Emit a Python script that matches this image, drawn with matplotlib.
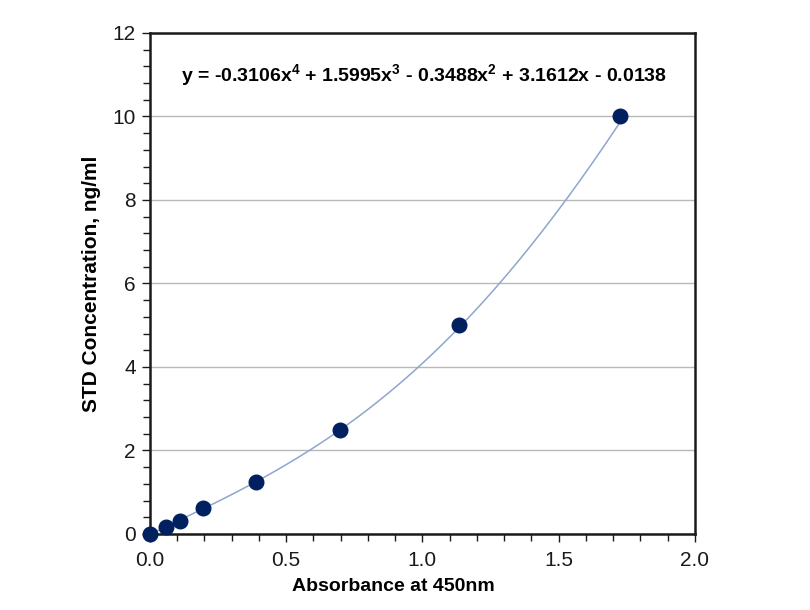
import numpy as np
import matplotlib
matplotlib.use("Agg")
import matplotlib.pyplot as plt
from matplotlib.ticker import MultipleLocator

plt.rcParams["font.family"] = ["Liberation Sans", "DejaVu Sans"]
plt.rcParams["mathtext.default"] = "regular"

# standard curve data
absorbance = [0.0, 0.059, 0.110, 0.194, 0.389, 0.697, 1.134, 1.725]
concentration = [0.0, 0.156, 0.3125, 0.625, 1.25, 2.5, 5.0, 10.0]
# 4th order fit coefficients (highest power first)
fit_coeffs = [-0.3106, 1.5995, -0.3488, 3.1612, -0.0138]

fig = plt.figure(figsize=(8.1, 6.1), dpi=100)
ax = fig.add_axes([0.185, 0.1246, 0.673, 0.8214])

xs = np.linspace(0, max(absorbance), 200)
ax.plot(xs, np.polyval(fit_coeffs, xs), color="#8fa6cc", lw=1.1, zorder=2)
ax.plot(absorbance, concentration, "o", color="#002060", ms=10.5, zorder=3,
        clip_on=False)

ax.set_xlim(0, 2.0)
ax.set_ylim(0, 12)
ax.xaxis.set_major_locator(MultipleLocator(0.5))
ax.xaxis.set_minor_locator(MultipleLocator(0.1))
ax.yaxis.set_major_locator(MultipleLocator(2))
ax.yaxis.set_minor_locator(MultipleLocator(0.4))
ax.xaxis.set_major_formatter(plt.FuncFormatter(lambda v, p: f"{v:.1f}"))
ax.yaxis.set_major_formatter(plt.FuncFormatter(lambda v, p: f"{v:.0f}"))

ax.grid(axis="y", which="major", color="#b8b8b8", lw=1)
ax.set_axisbelow(True)
for s in ax.spines.values():
    s.set_linewidth(1.8)
    s.set_color("#1a1a1a")

ax.tick_params(which="both", direction="out", length=5, width=1, labelsize=15,
               colors="#1a1a1a", pad=4)
ax.tick_params(which="major", length=6)
ax.tick_params(axis="x", pad=6)

ax.set_xlabel("Absorbance at 450nm", fontsize=14, fontweight="bold")
ax.xaxis.set_label_coords(0.446, -0.087)
ax.set_ylabel("STD Concentration, ng/ml", fontsize=15, fontweight="bold", labelpad=8)

ax.text(0.503, 0.915,
        r"y = -0.3106x$^{4}$ + 1.5995x$^{3}$ - 0.3488x$^{2}$ + 3.1612x - 0.0138",
        transform=ax.transAxes, ha="center", va="center", fontsize=14,
        fontweight="bold")

fig.savefig("out.png", dpi=100)
